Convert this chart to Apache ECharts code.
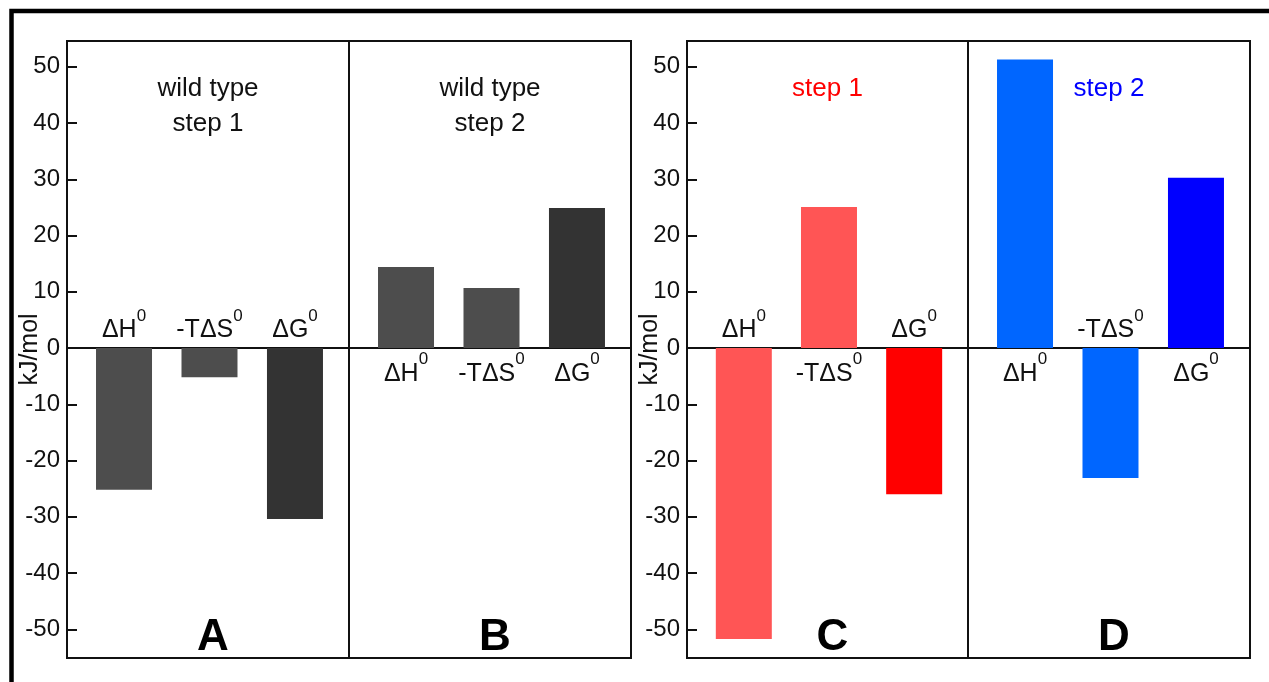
<!DOCTYPE html>
<html>
<head>
<meta charset="utf-8">
<script src="https://cdn.jsdelivr.net/npm/echarts@6/dist/echarts.min.js"></script>
<style>
html,body{margin:0;padding:0;background:#fff;}
#chart{width:1269px;height:682px;}
</style>
</head>
<body>
<div id="chart"></div>
<script>
// ---- data ----
const categories = ['ΔH', '-TΔS', 'ΔG'];
const superscripts = ['0', '0', '0'];
const panelA = [-25.2, -5.2, -30.4];   // wild type step 1
const panelB = [14.4, 10.7, 24.9];     // wild type step 2
const panelC = [-51.7, 25.1, -26.0];   // step 1
const panelD = [51.3, -23.1, 30.3];    // step 2
const panelTitles = ['wild type\nstep 1', 'wild type\nstep 2', 'step 1', 'step 2'];
const panelLetters = ['A', 'B', 'C', 'D'];
const yAxisName = 'kJ/mol';

// ---- styling / layout ----
const FONT = '"Liberation Sans", Arial, sans-serif';
const panels = [panelA, panelB, panelC, panelD];
const barColors = [
  ['#4d4d4d', '#4d4d4d', '#333333'],
  ['#4d4d4d', '#4d4d4d', '#333333'],
  ['#ff5555', '#ff5555', '#ff0000'],
  ['#0066ff', '#0066ff', '#0000ff']
];
const titleColors = ['#111', '#111', '#ff0000', '#0000ff'];
const gridLefts = [67, 349, 687, 968];
const gridWidths = [282, 282, 281, 282];
const gridTop = 41, gridHeight = 617;
const Y_MIN = -55.1, Y_MAX = 54.6;

const grids = [], xAxes = [], yAxes = [], series = [], titles = [];
panels.forEach((vals, i) => {
  grids.push({
    left: gridLefts[i], top: gridTop, width: gridWidths[i], height: gridHeight,
    show: true, borderColor: '#111', borderWidth: 2, backgroundColor: 'transparent'
  });
  xAxes.push({
    type: 'value', gridIndex: i, min: 0.333, max: 3.632,
    axisLine: { show: true, onZero: true, lineStyle: { color: '#111', width: 2 } },
    axisTick: { show: false }, axisLabel: { show: false }, splitLine: { show: false }
  });
  const showY = (i === 0 || i === 2);
  yAxes.push({
    type: 'value', gridIndex: i, min: Y_MIN, max: Y_MAX, splitNumber: 11,
    show: showY,
    name: showY ? yAxisName : '',
    nameLocation: 'middle', nameGap: 24, nameRotate: 90, nameMoveOverlap: false,
    nameTextStyle: { fontFamily: FONT, fontSize: 25, color: '#111' },
    axisLine: { show: false },
    axisTick: { show: true, inside: true, length: 10, lineStyle: { color: '#111', width: 2 } },
    axisLabel: {
      show: true, margin: 7, fontFamily: FONT, fontSize: 24, color: '#111',
      showMinLabel: false, showMaxLabel: false,
      formatter: v => (Math.abs(Math.round(v) - v) < 1e-6 && Math.round(v) % 10 === 0) ? String(Math.round(v)) : ''
    },
    splitLine: { show: false }
  });
  series.push({
    type: 'bar', xAxisIndex: i, yAxisIndex: i, barWidth: 56,
    data: vals.map((v, j) => ({ value: [j + 1, v], itemStyle: { color: barColors[i][j] } })),
    silent: true, animation: false
  });
  series.push({
    type: 'scatter', xAxisIndex: i, yAxisIndex: i, symbolSize: 0.1,
    itemStyle: { color: '#111', opacity: 1 }, silent: true, animation: false, z: 5,
    data: vals.map((v, j) => ({
      value: [j + 1, 0],
      label: { position: v < 0 ? 'top' : 'bottom', distance: v < 0 ? 5 : 3 }
    })),
    label: {
      show: true, color: '#111', opacity: 1, textBorderWidth: 0,
      formatter: p => '{m|' + categories[p.dataIndex] + '}{s|' + superscripts[p.dataIndex] + '}',
      rich: {
        m: { fontFamily: FONT, fontSize: 25, lineHeight: 35, color: '#111', verticalAlign: 'bottom' },
        s: { fontFamily: FONT, fontSize: 17, lineHeight: 17, color: '#111', verticalAlign: 'top' }
      }
    }
  });
  const cx = gridLefts[i] + gridWidths[i] / 2;
  titles.push({
    text: panelTitles[i], left: cx, top: 71, textAlign: 'center', padding: 0,
    textStyle: { fontFamily: FONT, fontSize: 26, fontWeight: 'normal', color: titleColors[i], lineHeight: 35 }
  });
  titles.push({
    text: panelLetters[i], left: cx, top: 608, textAlign: 'center',
    textStyle: { fontFamily: FONT, fontSize: 44, fontWeight: 'bold', color: '#000', lineHeight: 50 }
  });
});

const chart = echarts.init(document.getElementById('chart'), null, { renderer: 'canvas' });
chart.setOption({
  animation: false,
  backgroundColor: '#fff',
  title: titles,
  grid: grids,
  xAxis: xAxes,
  yAxis: yAxes,
  series: series,
  graphic: [{
    type: 'rect', silent: true, z: 100,
    shape: { x: 11.5, y: 11, width: 1400, height: 900 },
    style: { fill: 'none', stroke: '#000', lineWidth: 4.5 }
  }]
});
</script>
</body>
</html>
